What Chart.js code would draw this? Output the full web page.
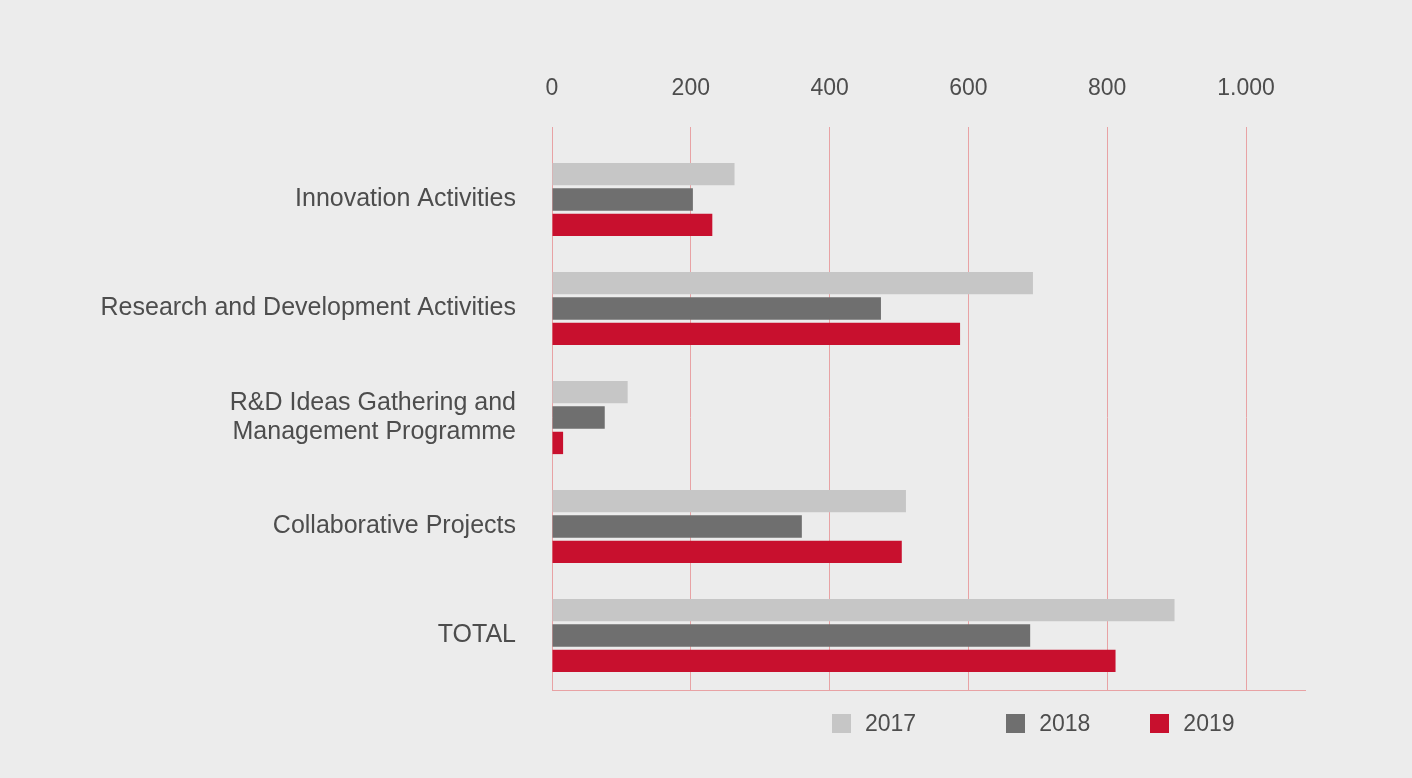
<!DOCTYPE html>
<html>
<head>
<meta charset="utf-8">
<script src="https://cdn.jsdelivr.net/npm/chart.js"></script>
<style>
  html, body { margin: 0; padding: 0; background: #ececec; }
  #wrap { position: relative; width: 1412px; height: 778px; }
  #legend { position: absolute; left: 832px; top: 710px; display: flex; font-family: "Liberation Sans", Arial, sans-serif; font-size: 23px; color: #4d4d4d; }
  #legend .item { display: flex; align-items: center; }
  #legend .item:nth-child(1) { margin-right: 90px; }
  #legend .item:nth-child(2) { margin-right: 60px; }
  #legend .box { width: 19px; height: 19px; margin-right: 14px; }
</style>
</head>
<body>
<div id="wrap">
  <canvas id="chart" width="1412" height="778"></canvas>
  <div id="legend"></div>
</div>

<script>
// categories and values per year
var categorias = [
  'Innovation Activities',
  'Research and Development Activities',
  ['R&D Ideas Gathering and', 'Management Programme'],
  'Collaborative Projects',
  'TOTAL'
];
var anios = ['2017', '2018', '2019'];
var valores2017 = [263, 693, 109, 510, 897];
var valores2018 = [203, 474, 76, 360, 689];
var valores2019 = [231, 588, 16, 504, 812];
var colores = ['#c6c6c6', '#6f6f6f', '#c8102e'];
var ticksX = [0, 200, 400, 600, 800, 1000];

var rejilla = '#e8a2a4';
var texto = '#4d4d4d';
var fuente = '"Liberation Sans", Arial, sans-serif';

function miles(v) {
  return String(v).replace(/\B(?=(\d{3})+(?!\d))/g, '.');
}

function fijarTicks(scale) {
  scale.ticks = ticksX.map(function(v) { return { value: v }; });
}

// legend in html so the items can spread out like the print version
var htmlLegend = {
  id: 'htmlLegend',
  afterUpdate: function(chart) {
    var cont = document.getElementById('legend');
    cont.innerHTML = '';
    chart.data.datasets.forEach(function(ds) {
      var item = document.createElement('div');
      item.className = 'item';
      var box = document.createElement('span');
      box.className = 'box';
      box.style.background = ds.backgroundColor;
      var txt = document.createElement('span');
      txt.textContent = ds.label;
      item.appendChild(box);
      item.appendChild(txt);
      cont.appendChild(item);
    });
  }
};

new Chart(document.getElementById('chart'), {
  type: 'bar',
  data: {
    labels: categorias,
    datasets: [
      { label: anios[0], data: valores2017, backgroundColor: colores[0] },
      { label: anios[1], data: valores2018, backgroundColor: colores[1] },
      { label: anios[2], data: valores2019, backgroundColor: colores[2] }
    ]
  },
  options: {
    indexAxis: 'y',
    responsive: false,
    animation: false,
    categoryPercentage: 0.7,
    barPercentage: 0.88,
    layout: { padding: { left: 0, right: 107, top: 0, bottom: 88 } },
    plugins: {
      legend: { display: false },
      tooltip: { enabled: false }
    },
    scales: {
      x: {
        position: 'top',
        min: 0,
        max: 1085,
        afterBuildTicks: fijarTicks,
        afterFit: function(scale) { scale.height = 145; },
        grid: { color: rejilla, lineWidth: 1, tickLength: 18 },
        border: { display: false },
        ticks: {
          padding: 25,
          color: texto,
          font: { family: fuente, size: 23 },
          callback: function(v) { return miles(v); }
        }
      },
      // bottom line of the plot
      x2: {
        position: 'bottom',
        axis: 'x',
        min: 0,
        max: 1085,
        afterBuildTicks: fijarTicks,
        afterFit: function(scale) { scale.height = 0; },
        grid: { display: false },
        border: { display: true, color: rejilla, width: 1 },
        ticks: { display: false }
      },
      y: {
        afterFit: function(scale) { scale.width = 552; },
        grid: { display: false, drawTicks: false },
        border: { display: false },
        ticks: {
          padding: 36,
          color: texto,
          font: { family: fuente, size: 25, lineHeight: 1.16 }
        }
      }
    }
  },
  plugins: [htmlLegend]
});
</script>
</body>
</html>
